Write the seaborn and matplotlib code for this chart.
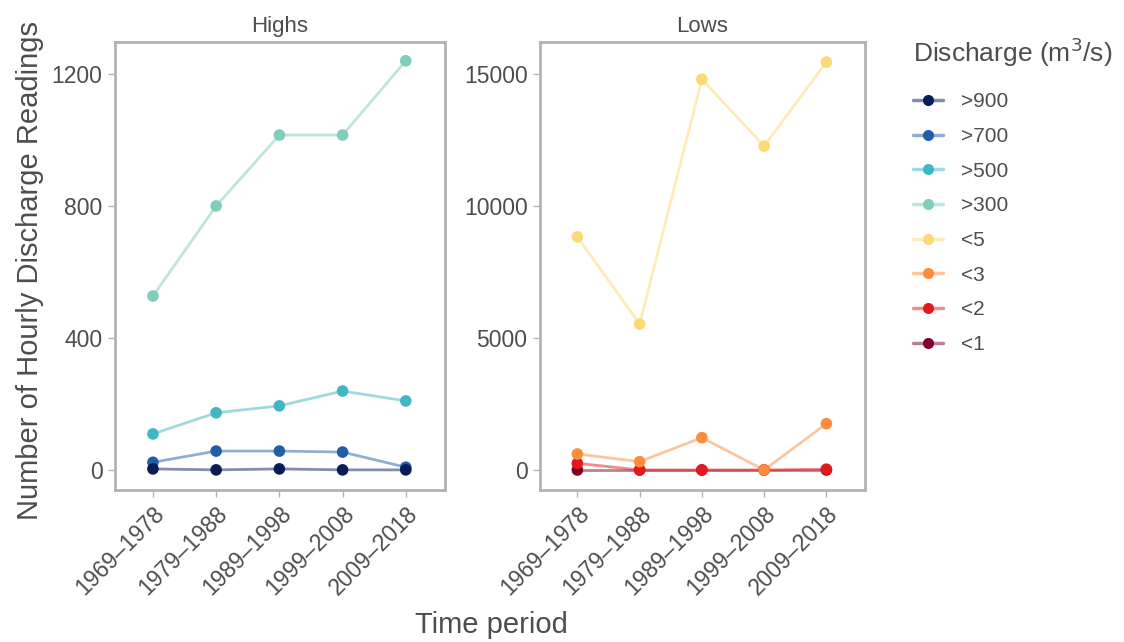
import pandas as pd
import matplotlib.pyplot as plt
import seaborn as sns
from matplotlib.lines import Line2D

periods = ["1969\u20131978", "1979\u20131988", "1989\u20131998", "1999\u20132008", "2009\u20132018"]

highs_900 = [3, 0, 3, 0, 0]
highs_700 = [23, 57, 57, 54, 8]
highs_500 = [109, 173, 194, 239, 209]
highs_300 = [527, 800, 1015, 1015, 1240]

lows_5 = [8830, 5530, 14800, 12270, 15450]
lows_3 = [606, 316, 1225, 0, 1755]
lows_2 = [253, 0, 0, 0, 30]
lows_1 = [0, 0, 0, 0, 0]

high_levels = [">900", ">700", ">500", ">300"]
low_levels = ["<5", "<3", "<2", "<1"]
colors = {">900": "#081d58", ">700": "#225ea8", ">500": "#41b6c4", ">300": "#7fcdbb",
          "<5": "#fed976", "<3": "#fd8d3c", "<2": "#e31a1c", "<1": "#800026"}

rows = []
for lvl, vals in zip(high_levels, [highs_900, highs_700, highs_500, highs_300]):
    for p, v in zip(periods, vals):
        rows.append({"panel": "Highs", "level": lvl, "period": p, "count": v})
for lvl, vals in zip(low_levels, [lows_5, lows_3, lows_2, lows_1]):
    for p, v in zip(periods, vals):
        rows.append({"panel": "Lows", "level": lvl, "period": p, "count": v})
df = pd.DataFrame(rows)
df["x"] = df["period"].map({p: i for i, p in enumerate(periods)})

sns.set_theme(style="white")
plt.rcParams["font.family"] = ["Liberation Sans", "DejaVu Sans"]
txt = "#4d4d4d"

fig = plt.figure(figsize=(11.24, 6.42), dpi=100)
ax1 = fig.add_axes([115 / 1124, 152 / 642, 330 / 1124, 448 / 642])
ax2 = fig.add_axes([540 / 1124, 152 / 642, 325 / 1124, 448 / 642])

for ax, panel, levels, ylim, yticks in [
    (ax1, "Highs", high_levels, (-61, 1297), [0, 400, 800, 1200]),
    (ax2, "Lows", low_levels, (-758, 16212), [0, 5000, 10000, 15000]),
]:
    sub = df[df["panel"] == panel]
    order = levels[::-1]
    for lvl in order:
        d = sub[sub["level"] == lvl]
        sns.lineplot(data=d, x="x", y="count", color=colors[lvl], alpha=0.5,
                     linewidth=2, ax=ax, legend=False)
    for lvl in order:
        d = sub[sub["level"] == lvl]
        sns.scatterplot(data=d, x="x", y="count", color=colors[lvl], s=70,
                        edgecolor="none", ax=ax, legend=False, zorder=3)
    ax.set_xlim(-0.6, 4.62)
    ax.set_ylim(*ylim)
    ax.set_yticks(yticks)
    ax.set_yticklabels([str(t) for t in yticks])
    ax.set_xticks(range(len(periods)))
    ax.set_xticklabels(periods, rotation=45, ha="right", rotation_mode="anchor")
    ax.tick_params(axis="both", labelsize=16.5, labelcolor=txt, colors="#b3b3b3",
                   length=5, width=1, bottom=True, left=True, pad=4)
    for t in ax.get_xticklabels() + ax.get_yticklabels():
        t.set_color(txt)
    for s in ax.spines.values():
        s.set_color("#b3b3b3")
        s.set_linewidth(2)
    ax.set_xlabel("")
    ax.set_ylabel("")
    ax.set_title(panel, fontsize=16, color=txt, pad=7)

fig.text(30 / 1124, 1 - 270 / 642, "Number of Hourly Discharge Readings", rotation=90,
         ha="center", va="center", fontsize=21, color=txt)
fig.text(491 / 1124, 1 - 625 / 642, "Time period", ha="center", va="center",
         fontsize=21, color=txt)

handles = [Line2D([0], [0], color=colors[l], alpha=1, linewidth=0, marker="o",
                  markersize=8, markeredgewidth=0) for l in high_levels + low_levels]
lines = [Line2D([0], [0], color=colors[l], alpha=0.5, linewidth=2.5)
         for l in high_levels + low_levels]
leg = fig.legend([(ln, h) for ln, h in zip(lines, handles)], high_levels + low_levels,
                 title="Discharge (m$^3$/s)", loc="upper left",
                 bbox_to_anchor=(905 / 1124, 1 - 27 / 642), frameon=False,
                 fontsize=15, title_fontsize=19, labelspacing=0.75,
                 handlelength=1.4, handletextpad=0.9, borderaxespad=0)
leg._legend_box.align = "left"
leg._legend_box.sep = 17
leg.get_title().set_color(txt)
for t in leg.get_texts():
    t.set_color(txt)

fig.savefig("out.png", dpi=100)
